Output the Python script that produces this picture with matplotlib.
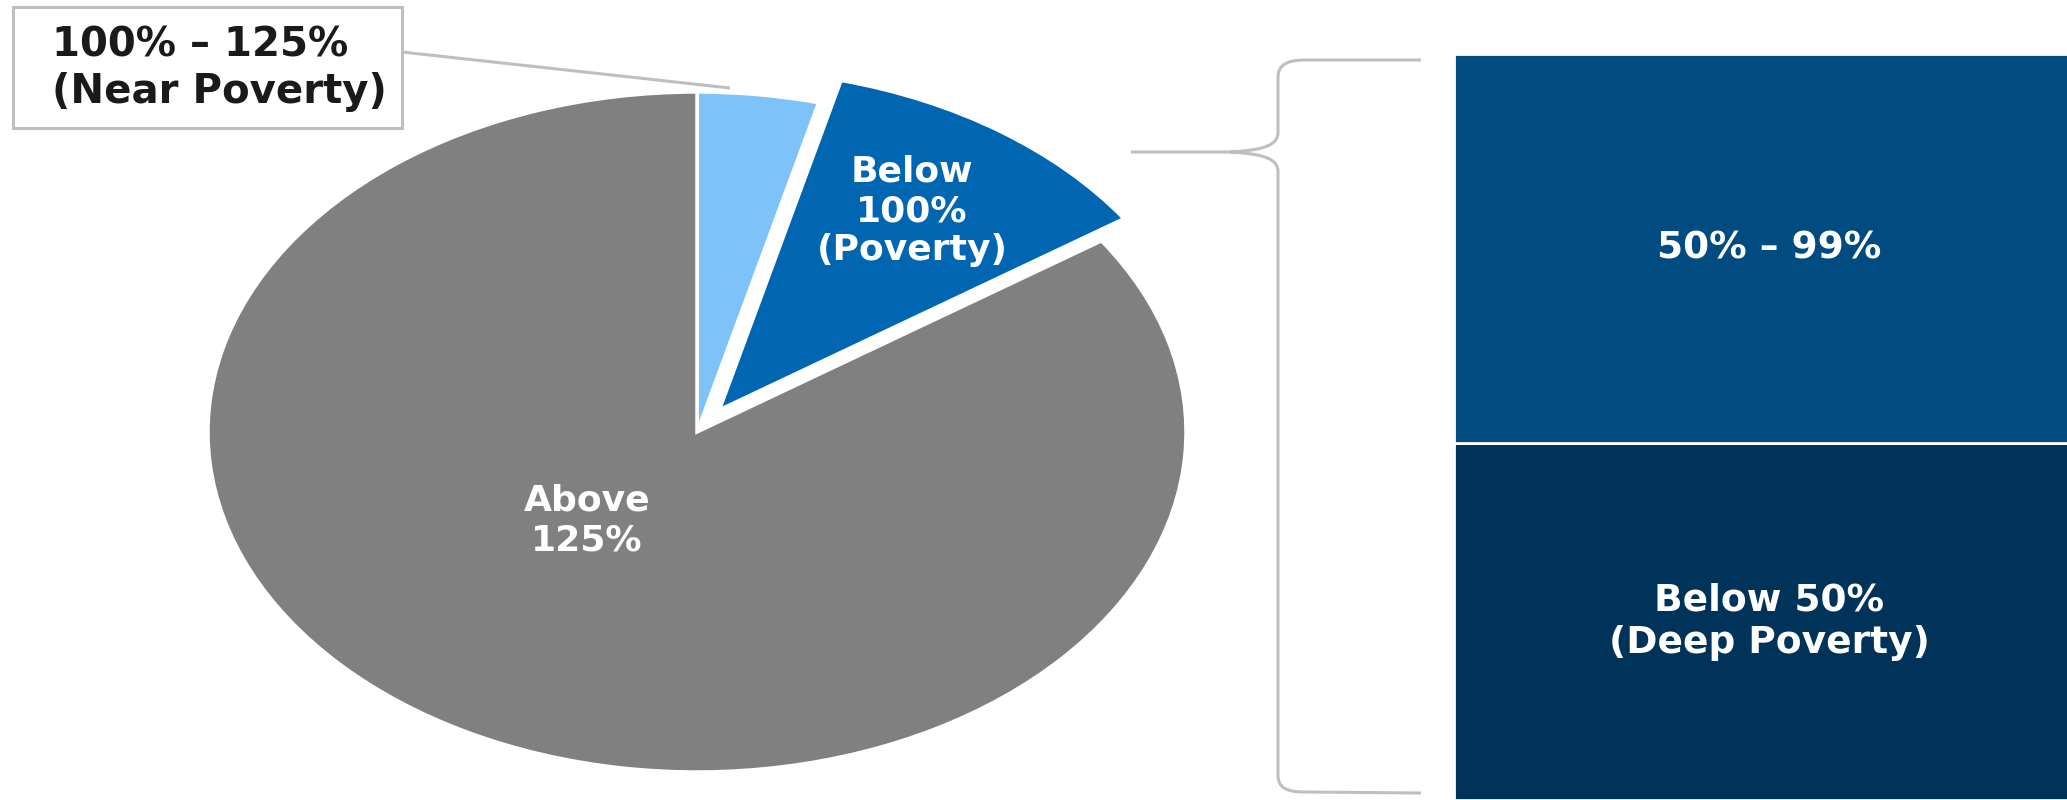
import matplotlib.pyplot as plt
from matplotlib.path import Path
from matplotlib.patches import PathPatch, Rectangle

# Income relative to the poverty line, share of people (%)
pie_labels = ["100% – 125%\n(Near Poverty)", "Below\n100%\n(Poverty)", "Above\n125%"]
pie_shares = [4.0, 11.5, 84.5]
pie_colors = ["#7DC3F9", "#0066B2", "#808080"]
pie_explode = [0, 0.08, 0]

# Split of the poverty slice (bottom to top)
bar_labels = ["Below 50%\n(Deep Poverty)", "50% – 99%"]
bar_shares = [5.5, 6.0]
bar_colors = ["#003359", "#004C81"]

W, H = 2067, 800
fig = plt.figure(figsize=(W / 100, H / 100), dpi=100)


def px_axes(left, top, right, bottom, **kw):
    # axes placed with pixel edges, y measured from the top
    return fig.add_axes([left / W, 1 - bottom / H, (right - left) / W, (bottom - top) / H], **kw)


# pie drawn as a wide ellipse
cx, cy, rx, ry = 697, 432, 489, 340
lim = 1.25
ax = px_axes(cx - lim * rx, cy - lim * ry, cx + lim * rx, cy + lim * ry)
wedges, _ = ax.pie(pie_shares, colors=pie_colors, explode=pie_explode,
                   startangle=90, counterclock=False,
                   wedgeprops=dict(edgecolor="white", linewidth=2.5))
ax.set_aspect("auto")
ax.set_xlim(-lim, lim)
ax.set_ylim(-lim, lim)
ax.axis("off")

txt = dict(ha="center", va="center", color="white", fontsize=26, fontweight="bold")
ax.text(0.44, 0.65, pie_labels[1], linespacing=1.2, **txt)
ax.text(-0.225, -0.26, pie_labels[2], linespacing=1.2, **txt)

# stacked bar for the breakdown
bx = px_axes(1454, 54, 2084, 800)
bottom = 0
for share, color, label in zip(bar_shares, bar_colors, bar_labels):
    bx.bar(0, share, bottom=bottom, width=1, color=color, edgecolor="white", linewidth=2)
    bx.text(0, bottom + share / 2, label, ha="center", va="center", color="white",
            fontsize=27, fontweight="bold", linespacing=1.25)
    bottom += share
bx.set_xlim(-0.5, 0.5)
bx.set_ylim(0, sum(bar_shares))
bx.axis("off")

# overlay in pixel coordinates for callout box, leader line and brace
cv = fig.add_axes([0, 0, 1, 1], zorder=5)
cv.set_xlim(0, W)
cv.set_ylim(H, 0)
cv.axis("off")

grey = "#BFBFBF"
cv.add_patch(Rectangle((13, 7), 389, 121, facecolor="white", edgecolor=grey, linewidth=2.2))
cv.text(52, 69, pie_labels[0], ha="left", va="center", fontsize=29, fontweight="bold",
        color="#1A1A1A", linespacing=1.2)
cv.plot([402, 730], [52, 88], color=grey, linewidth=2.2, solid_capstyle="butt")

verts = [
    (1421, 60), (1305, 60),
    (1285, 60), (1278, 66), (1278, 78),
    (1278, 132),
    (1278, 145), (1265, 150), (1230, 152),
    (1131, 152),
    (1230, 152),
    (1265, 154), (1278, 159), (1278, 172),
    (1278, 775),
    (1278, 787), (1285, 792), (1305, 792),
    (1421, 793),
]
codes = [
    Path.MOVETO, Path.LINETO,
    Path.CURVE4, Path.CURVE4, Path.CURVE4,
    Path.LINETO,
    Path.CURVE4, Path.CURVE4, Path.CURVE4,
    Path.LINETO,
    Path.MOVETO,
    Path.CURVE4, Path.CURVE4, Path.CURVE4,
    Path.LINETO,
    Path.CURVE4, Path.CURVE4, Path.CURVE4,
    Path.LINETO,
]
cv.add_patch(PathPatch(Path(verts, codes), facecolor="none", edgecolor=grey, linewidth=2.2))

fig.savefig("out.png", dpi=100)
